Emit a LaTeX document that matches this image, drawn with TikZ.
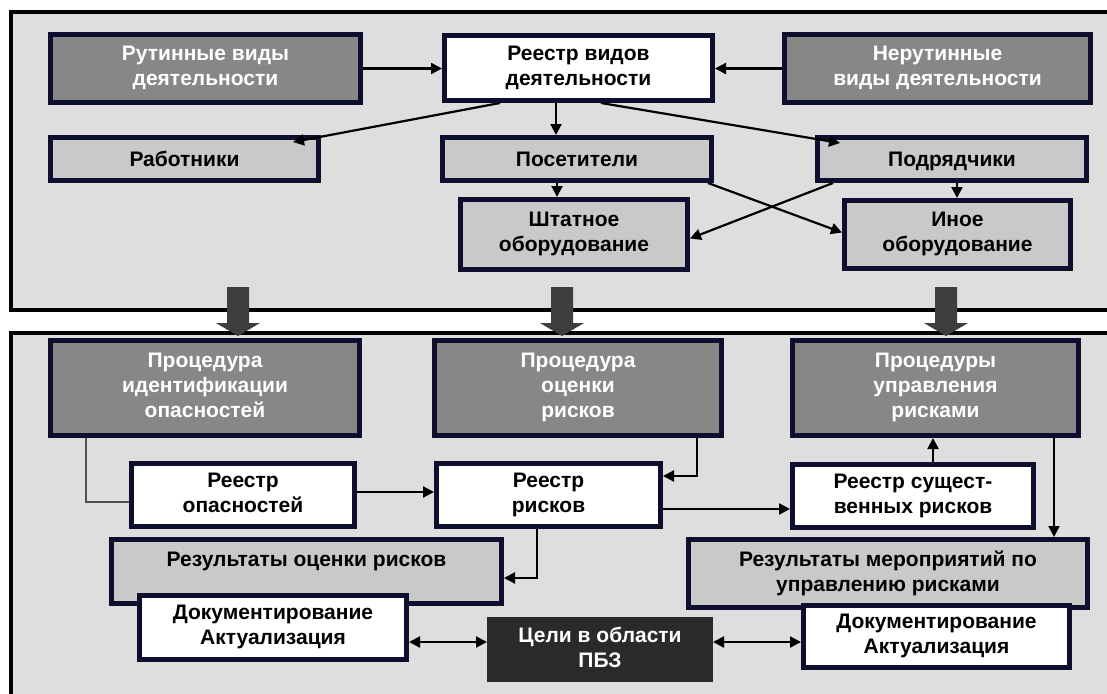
\documentclass[tikz,border=0pt]{standalone}
\usepackage{fontspec}
\setmainfont{Liberation Sans}
\usetikzlibrary{arrows.meta,calc}
\definecolor{panelfill}{HTML}{DEDEDE}
\definecolor{boxborder}{HTML}{0E0E2E}
\definecolor{darkfill}{HTML}{878787}
\definecolor{lightfill}{HTML}{C9C9C9}
\definecolor{goalfill}{HTML}{2A2A2A}
\definecolor{bigarrowfill}{HTML}{3E3E3E}
\definecolor{linegray}{HTML}{505050}
\newcommand{\boxstrut}{\rule[-4.5pt]{0pt}{24pt}}
\tikzset{
  box/.style={draw=boxborder, line width=5pt, rectangle, align=center,
    font=\bfseries\fontsize{21}{25}\selectfont, inner sep=2pt,
    execute at begin node=\boxstrut, execute at end node=\boxstrut},
  darkbox/.style={box, fill=darkfill, text=white},
  lightbox/.style={box, fill=lightfill, text=black},
  whitebox/.style={box, fill=white, text=black},
  goalbox/.style={box, draw=goalfill, fill=goalfill, text=white, line width=1pt},
  boxtext/.style={align=center, font=\bfseries\fontsize{21}{25}\selectfont, inner sep=0pt,
    execute at begin node=\boxstrut, execute at end node=\boxstrut},
  panel/.style={draw=black, fill=panelfill, line width=4pt},
  arr/.style={draw=black, line width=2.2pt, -{Triangle[length=11pt,width=11pt]}},
  darr/.style={draw=black, line width=2.2pt, {Triangle[length=11pt,width=11pt]}-{Triangle[length=11pt,width=11pt]}},
  plainline/.style={draw=linegray, line width=1.6pt},
  bigarrow/.style={fill=bigarrowfill}
}
\begin{document}
\begin{tikzpicture}[x=1pt,y=-1pt]
\useasboundingbox (0,0) rectangle (1107,693);
\fill[white] (0,0) rectangle (1107,693);
\clip (0,0) rectangle (1107,693);

% panels
\draw[panel] (11,12) rectangle (1125,310);
\draw[panel] (11,333) rectangle (1125,720);

% ---- top panel boxes
\node[darkbox, minimum width=310pt, minimum height=68pt] (rut) at (205.5,68.5) {Рутинные виды\\деятельности};
\node[whitebox, minimum width=268pt, minimum height=65pt] (reg) at (578.5,68) {Реестр видов\\деятельности};
\node[darkbox, minimum width=306pt, minimum height=68pt] (nerut) at (937.5,68.5) {Нерутинные\\виды деятельности};
\node[lightbox, minimum width=268pt, minimum height=43pt] (rab) at (184.5,159) {Работники};
\node[lightbox, minimum width=269pt, minimum height=43pt] (pos) at (577,159) {Посетители};
\node[lightbox, minimum width=269pt, minimum height=43pt] (pod) at (952,159) {Подрядчики};
\node[lightbox, minimum width=227pt, minimum height=70pt] (sht) at (574,234.5) {Штатное\\оборудование};
\node[lightbox, minimum width=226pt, minimum height=68pt] (ino) at (957.5,234.5) {Иное\\оборудование};

% ---- top panel connectors
\draw[arr] (rut.east) -- (rut.east -| reg.west);
\draw[arr] (nerut.west) -- (nerut.west -| reg.east);
\draw[arr] ([xshift=-78.5pt]reg.south) -- ([xshift=108.5pt,yshift=-7pt]rab.north);
\draw[arr] ([xshift=-22.5pt]reg.south) -- ([xshift=-22.5pt]reg.south |- pos.north);
\draw[arr] ([xshift=22.5pt]reg.south) -- ([xshift=-112pt,yshift=-8pt]pod.north);
\draw[arr] ([xshift=-20pt]pos.south) -- ([xshift=-20pt]pos.south |- sht.north);
\draw[arr] ([xshift=5pt]pod.south) -- ([xshift=5pt]pod.south |- ino.north);
\draw[arr] ([xshift=-6pt]pos.south east) -- ([yshift=2pt]ino.west);
\draw[arr] ([xshift=18pt]pod.south west) -- ([yshift=-4pt]sht.east);

% ---- bold arrows between panels
\foreach \cx in {238,562,946}{
  \fill[bigarrow] (\cx-11,287) -- (\cx+11,287) -- (\cx+11,323) -- (\cx+22,323)
    -- (\cx,336) -- (\cx-22,323) -- (\cx-11,323) -- cycle;
}

% ---- bottom panel boxes
\node[darkbox, minimum width=309pt, minimum height=95pt] (pid) at (205,388) {Процедура\\идентификации\\опасностей};
\node[darkbox, minimum width=287pt, minimum height=95pt] (por) at (578,388) {Процедура\\оценки\\рисков};
\node[darkbox, minimum width=286pt, minimum height=95pt] (pur) at (935.5,388) {Процедуры\\управления\\рисками};
\node[whitebox, minimum width=223pt, minimum height=63pt] (rop) at (243,495) {Реестр\\опасностей};
\node[whitebox, minimum width=224pt, minimum height=63pt] (rr) at (548.5,495) {Реестр\\рисков};
\node[whitebox, minimum width=241pt, minimum height=63pt] (rsr) at (913,496) {Реестр сущест-\\венных рисков};
\node[lightbox, minimum width=390pt, minimum height=64pt] (roc) at (306.5,571.5) {};
\node[boxtext] (roct) at ([yshift=13pt]roc.center) {Результаты оценки рисков};
\node[lightbox, minimum width=399pt, minimum height=68pt] (rmu) at (888,573.5) {Результаты мероприятий по\\управлению рисками};
\node[whitebox, minimum width=267pt, minimum height=64pt] (docl) at (273,627.5) {Документирование\\Актуализация};
\node[goalbox, minimum width=225pt, minimum height=64pt] (goal) at (600,649.5) {Цели в области\\ПБЗ};
\node[whitebox, minimum width=266pt, minimum height=62pt] (docr) at (936.5,636.5) {Документирование\\Актуализация};

% ---- bottom panel connectors
\draw[plainline] ([xshift=-119pt]pid.south) |- ([yshift=-7pt]rop.west);
\draw[arr] ([yshift=3pt]rop.east) -- ([yshift=3pt]rop.east -| rr.west);
\draw[arr] ([xshift=119pt]por.south) |- ([yshift=19pt]rr.east);
\draw[arr] ([yshift=-14pt]rr.east) -- ([yshift=-14pt]rr.east -| rsr.west);
\draw[arr] ([xshift=20pt]rsr.north) -- ([xshift=20pt]rsr.north |- pur.south);
\draw[arr] ([xshift=118.5pt]pur.south) -- ([xshift=118.5pt]pur.south |- rmu.north);
\draw[arr] ([xshift=-11.5pt]rr.south) |- ([yshift=-6.5pt]roc.east);
\draw[darr] ([yshift=-14.5pt]docl.east) -- ([yshift=-14.5pt]docl.east -| goal.west);
\draw[darr] ([yshift=7.5pt]goal.east) -- ([yshift=7.5pt]goal.east -| docr.west);
\end{tikzpicture}
\end{document}
